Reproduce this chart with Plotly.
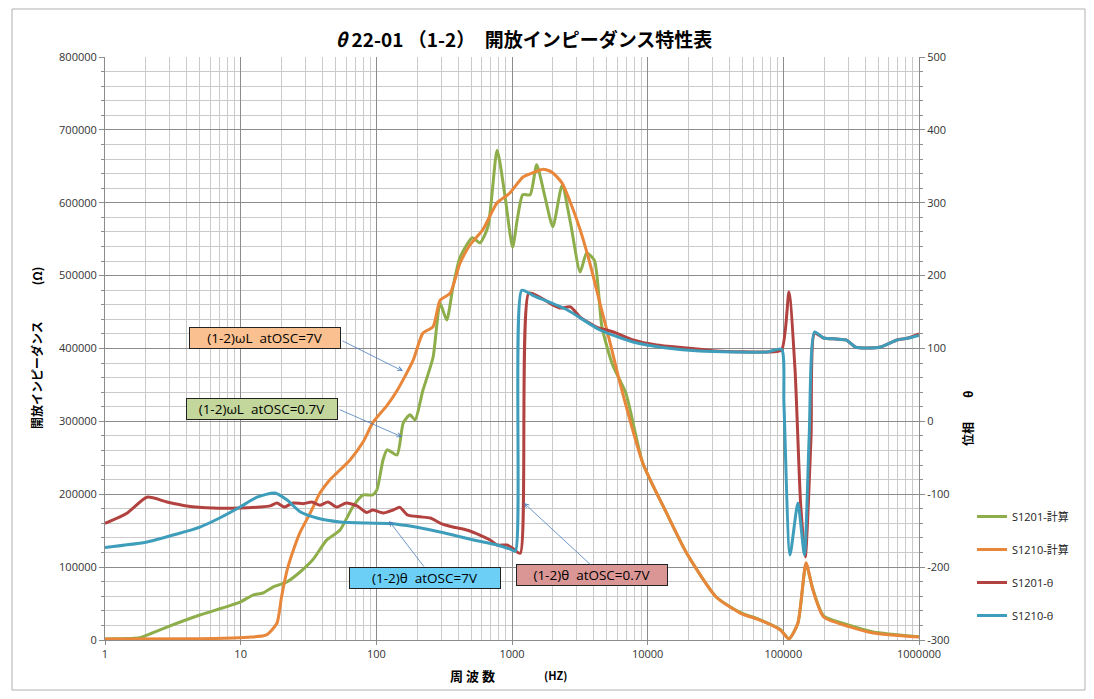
import math
import plotly.graph_objects as go

# ---------------- data ----------------
green_f = [1, 1.5, 1.8, 2.86, 5, 9.9, 12.3, 14.6, 17.3, 21.9, 27.4, 34, 43, 54, 67, 80, 94,
           101, 112, 120, 142, 158, 177, 193, 220, 262, 295, 330, 367, 414, 510, 580, 665,
           777, 890, 1010, 1100, 1200, 1360, 1520, 1750, 2000, 2340, 2700, 3180, 3550, 4050,
           4600, 5500, 6900, 9200, 13800, 19400, 32000, 48000, 67000, 95000, 110000, 128000,
           147000, 165000, 198000, 310000, 460000, 1000000]
green_z = [1500, 2000, 3000, 17800, 34300, 52000, 61700, 64500, 72700, 79600, 93300, 110000,
           137000, 151000, 182500, 199000, 199000, 206000, 247000, 261000, 254000, 298000,
           309000, 302000, 342000, 388000, 462000, 439000, 484000, 525000, 552000, 545000,
           567000, 672000, 608000, 539000, 580000, 611000, 611000, 652000, 608000, 567000,
           624000, 572000, 505000, 531000, 521000, 430000, 378000, 339000, 243000, 174000,
           119000, 59000, 38000, 28000, 14500, 2000, 23000, 104000, 70000, 33000, 20000,
           11000, 4500]

orange_f = [1, 5, 8.8, 12, 15.5, 18.5, 20, 22, 23.8, 27.3, 32.5, 38.5, 45.5, 51, 64, 80, 94,
            120, 142, 187, 220, 262, 295, 350, 414, 490, 610, 777, 960, 1200, 1420, 1700,
            1970, 2340, 2700, 3180, 3750, 4450, 5300, 6300, 9200, 13800, 19400, 32000, 48000,
            67000, 95000, 110000, 128000, 147000, 165000, 198000, 310000, 460000, 1000000]
orange_z = [1500, 1800, 2700, 4000, 7000, 23000, 59000, 96000, 117000, 147000, 174000, 202000,
            220000, 229000, 247000, 272000, 298000, 322000, 342000, 384000, 421000, 430000,
            466000, 476000, 517000, 542000, 563000, 600000, 613000, 635000, 641000, 646000,
            642000, 627000, 600000, 563000, 517000, 462000, 407000, 350000, 243000, 174000,
            119000, 59000, 37000, 27400, 13700, 1400, 23000, 106000, 69000, 31600, 18000,
            9600, 4000]

red_f = [1, 1.45, 2.04, 2.86, 4, 6.25, 9.9, 13.8, 16.5, 18.5, 21, 24.3, 29, 33.5, 38.5, 44,
         51, 60, 72, 85, 94, 112, 133, 149, 170, 210, 250, 295, 367, 463, 580, 690, 777, 920,
         1010, 1150, 1330, 1600, 1900, 2250, 2700, 3180, 4200, 5600, 7800, 11600, 19400,
         32000, 76000, 97000, 110000, 122000, 134000, 145000, 160000, 170000, 198000, 246000,
         290000, 340000, 410000, 520000, 690000, 820000, 1000000]
red_t = [-140, -126, -104, -110.6, -116, -119, -119, -117.5, -116, -112, -117.5, -112, -113,
         -110.6, -115, -110.6, -117.5, -112, -116, -125, -121.6, -125.7, -121.6, -118, -128.5,
         -131, -132.6, -139.5, -145, -149, -156, -162.8, -169.6, -169.6, -174, -181, 176,
         170.7, 162, 155.6, 157, 143, 129.5, 122.6, 111.7, 104.8, 100.7, 96.6, 95.2, 98,
         177.5, 70.5, -112, -186, -21.5, 121, 114.4, 113, 111.7, 102, 100.7, 102, 111.7,
         114, 120]

blue_f = [1, 2.04, 3.4, 5, 7, 9.9, 13.2, 17.9, 22, 27.4, 36.5, 54, 85, 126, 168, 295, 520,
          777, 960, 1060, 1180, 1420, 2560, 4450, 7800, 13800, 24000, 76000, 97000, 101000,
          112000, 128000, 143000, 155000, 170000, 198000, 246000, 290000, 340000, 410000,
          520000, 690000, 820000, 1000000]
blue_t = [-173, -165.5, -154.5, -145, -132.6, -117.5, -104, -98.3, -108, -124, -132.6, -138,
          -139.5, -140, -143, -151.8, -162.8, -169.6, -175, -178, 180, 173, 152.8, 125.4, 109,
          100.7, 96.6, 95.2, 99, 25, -183.4, -112, -183.4, -21.5, 122.6, 114.4, 113, 111.7,
          102, 100.7, 102, 111.7, 114, 118]

series_names = ["S1201-計算", "S1210-計算", "S1201-θ", "S1210-θ"]
series_colors = ["#8DAE4A", "#E8863A", "#B2423F", "#3E9DBA"]

x_tickvals = [1, 10, 100, 1000, 10000, 100000, 1000000]
x_ticktext = ["1", "10", "100", "1000", "10000", "100000", "1000000"]
left_ticks = [0, 100000, 200000, 300000, 400000, 500000, 600000, 700000, 800000]
right_ticks = [-300, -200, -100, 0, 100, 200, 300, 400, 500]

# callouts: text, fill, arrow-head frequency, arrow-head value, axis
callout_text = ["(1-2)ωL  atOSC=7V", "(1-2)ωL  atOSC=0.7V", "(1-2)θ  atOSC=7V", "(1-2)θ  atOSC=0.7V"]
callout_fill = ["#FAC090", "#C3D69B", "#6CCFF6", "#D99694"]
callout_head_f = [157, 155, 124, 1225]
callout_head_v = [369000, 278600, -136.7, -112]
callout_axis = ["y", "y", "y2", "y2"]

# ---------------- layout geometry (page pixels) ----------------
OFF = 8                      # default page body margin
W, H = 1094 - 2 * OFF, 699 - 2 * OFF
L, R, T, B = 105, 919, 57, 640


def px_x(p):
    return (p - L) / (R - L)


def px_y(p):
    return (B - p) / (B - T)


fig = go.Figure()
ys = [green_z, orange_z, red_t, blue_t]
xs = [green_f, orange_f, red_f, blue_f]
axes = ["y", "y", "y2", "y2"]
for i in range(4):
    fig.add_trace(go.Scatter(
        x=xs[i], y=ys[i], name=series_names[i], yaxis=axes[i], mode="lines",
        line=dict(color=series_colors[i], width=3, shape="spline", smoothing=0.6),
        legendgroup=str(i),
    ))

grid_major = "#8C8C8C"
grid_minor = "#CACACA"
tick_font = dict(family="Open Sans, Noto Sans, sans-serif", size=11, color="#333333")

fig.update_layout(
    width=W, height=H,
    margin=dict(l=L - OFF, r=(OFF + W) - R, t=T - OFF, b=(OFF + H) - B),
    paper_bgcolor="white", plot_bgcolor="white",
    font=dict(family="Noto Sans CJK JP, Open Sans, sans-serif"),
    title=dict(
        text="<i>θ</i> 22-01 （1-2）　開放インピーダンス特性表",
        x=px_x(524), xref="paper", xanchor="center",
        y=1 - (40 - OFF) / H, yref="container", yanchor="middle",
        font=dict(family="Noto Sans CJK JP, sans-serif", size=19, color="black", weight="bold"),
    ),
    xaxis=dict(
        type="log", range=[0, 6], tickvals=x_tickvals, ticktext=x_ticktext,
        showgrid=True, gridcolor=grid_major, gridwidth=1,
        minor=dict(dtick="D1", showgrid=True, gridcolor=grid_minor, gridwidth=1, ticks=""),
        showline=True, linecolor="#8C8C8C", linewidth=1,
        ticks="outside", ticklen=4, tickcolor="#8C8C8C",
        tickfont=tick_font, zeroline=False,
    ),
    yaxis=dict(
        range=[0, 800000], tickvals=left_ticks, ticktext=[str(v) for v in left_ticks],
        showgrid=True, gridcolor=grid_major, gridwidth=1,
        minor=dict(dtick=20000, showgrid=True, gridcolor=grid_minor, gridwidth=1,
                   ticks="outside", ticklen=3, tickcolor="#8C8C8C"),
        showline=True, linecolor="#8C8C8C", linewidth=1,
        ticks="outside", ticklen=5, tickcolor="#8C8C8C",
        tickfont=tick_font, zeroline=False,
    ),
    yaxis2=dict(
        range=[-300, 500], tickvals=right_ticks, ticktext=[str(v) for v in right_ticks],
        overlaying="y", side="right", showgrid=False,
        minor=dict(dtick=20, ticks="outside", ticklen=3, tickcolor="#8C8C8C"),
        showline=True, linecolor="#8C8C8C", linewidth=1,
        ticks="outside", ticklen=5, tickcolor="#8C8C8C",
        tickfont=tick_font, zeroline=False,
    ),
    legend=dict(
        x=px_x(972), y=px_y(502), xanchor="left", yanchor="top",
        font=dict(family="Open Sans, Noto Sans CJK JP, sans-serif", size=11, color="#222222"),
        tracegroupgap=14, bgcolor="rgba(0,0,0,0)",
    ),
    showlegend=True,
)

annotations = []
# axis titles
annotations.append(dict(
    text="開放インピーダンス　　　(Ω)", x=px_x(36), y=px_y(348), xref="paper", yref="paper",
    textangle=-90, showarrow=False, xanchor="center", yanchor="middle",
    font=dict(family="Noto Sans CJK JP, sans-serif", size=12, color="black", weight="bold")))
annotations.append(dict(
    text="位相　　θ", x=px_x(968), y=px_y(419), xref="paper", yref="paper",
    textangle=-90, showarrow=False, xanchor="center", yanchor="middle",
    font=dict(family="Noto Sans CJK JP, sans-serif", size=12, color="black", weight="bold")))
annotations.append(dict(
    text="周 波 数", x=px_x(472), y=px_y(675), xref="paper", yref="paper",
    showarrow=False, xanchor="center", yanchor="middle",
    font=dict(family="Noto Sans CJK JP, sans-serif", size=13, color="black", weight="bold")))
annotations.append(dict(
    text="(HZ)", x=px_x(555), y=px_y(675), xref="paper", yref="paper",
    showarrow=False, xanchor="center", yanchor="middle",
    font=dict(family="Noto Sans CJK JP, sans-serif", size=11, color="black", weight="bold")))

# callout boxes (page pixel centres) and arrow tails
box_cx = [265, 262, 425, 592]
box_cy = [338, 409, 578, 575]
tail_dx = [-62, -64, 36, 68]
tail_dy = [-31, -28, 47, 63]
for i in range(4):
    annotations.append(dict(
        text=callout_text[i], x=px_x(box_cx[i]), y=px_y(box_cy[i]), xref="paper", yref="paper",
        showarrow=False, xanchor="center", yanchor="middle",
        bgcolor=callout_fill[i], bordercolor="#222222", borderwidth=1, borderpad=1,
        width=148, height=18,
        font=dict(family="Open Sans, sans-serif", size=13.5, color="black")))
    annotations.append(dict(
        text="", x=math.log10(callout_head_f[i]), y=callout_head_v[i],
        xref="x", yref=callout_axis[i], showarrow=True,
        ax=tail_dx[i], ay=tail_dy[i], axref="pixel", ayref="pixel",
        arrowhead=5, arrowsize=1.1, arrowwidth=0.8, arrowcolor="#4A7EBB", standoff=0))

fig.update_layout(annotations=annotations)

# chart outer border (page pixels)
fig.add_shape(type="rect", xref="paper", yref="paper",
              x0=px_x(12), x1=px_x(1085), y0=px_y(690), y1=px_y(9),
              line=dict(color="#B0B0B0", width=1), fillcolor="rgba(0,0,0,0)", layer="below")

fig.write_html("out.html")
